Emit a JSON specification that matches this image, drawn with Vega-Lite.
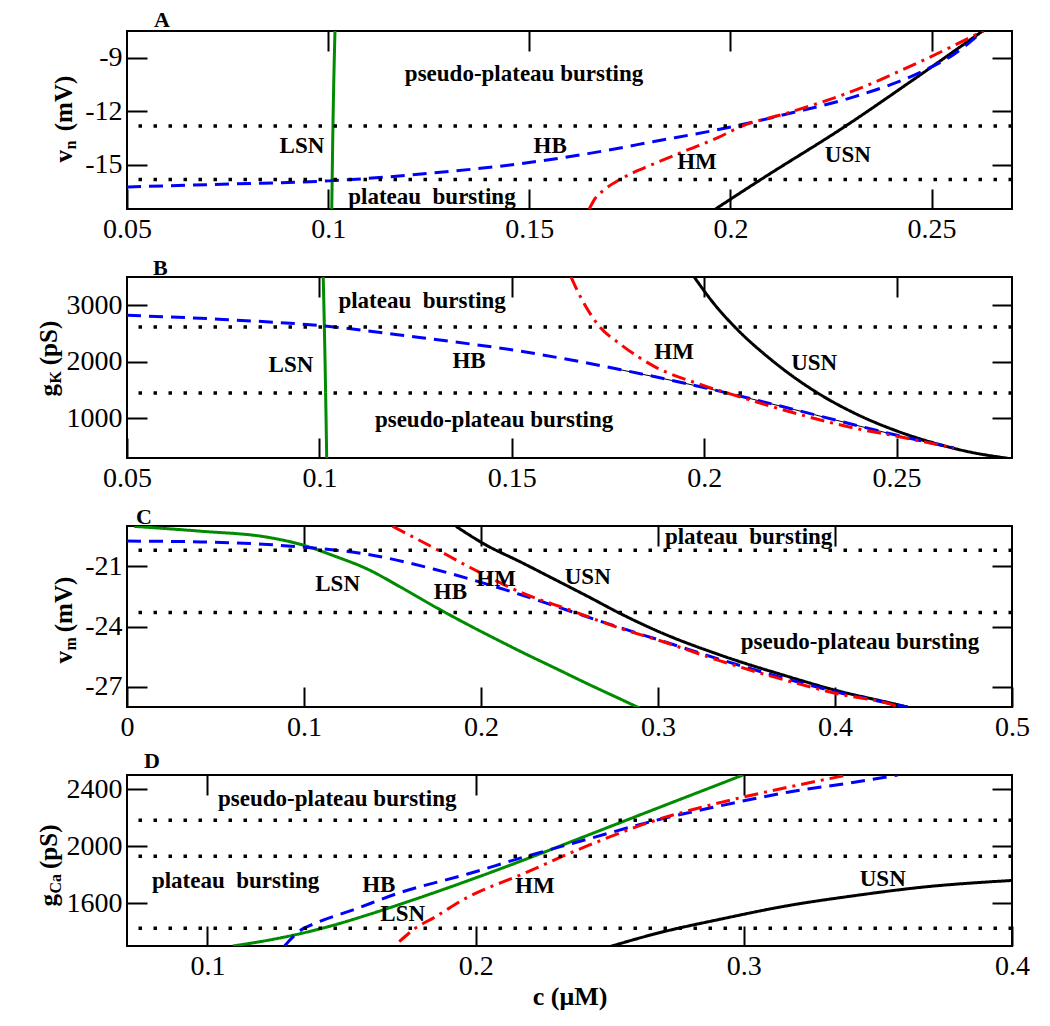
{
  "$schema": "https://vega.github.io/schema/vega-lite/v6.json",
  "background": "white",
  "padding": {"left": 35, "top": 8, "right": 5, "bottom": 5},
  "bounds": "flush",
  "spacing": 68,
  "datasets": {
    "curves": [
      {"p":"A","k":"USN","c":0.1963,"v":-17.5},{"p":"A","k":"USN","c":0.2076,"v":-15.84},{"p":"A","k":"USN","c":0.2287,"v":-12.83},{"p":"A","k":"USN","c":0.2457,"v":-10.2},{"p":"A","k":"USN","c":0.2627,"v":-7.5},
      {"p":"A","k":"LSN","c":0.1009,"v":-17.5},{"p":"A","k":"LSN","c":0.1012,"v":-12.8},{"p":"A","k":"LSN","c":0.1017,"v":-7.5},
      {"p":"A","k":"HB","c":0.05,"v":-16.26},{"p":"A","k":"HB","c":0.0766,"v":-16.09},{"p":"A","k":"HB","c":0.1002,"v":-15.92},{"p":"A","k":"HB","c":0.1263,"v":-15.47},{"p":"A","k":"HB","c":0.1476,"v":-14.96},{"p":"A","k":"HB","c":0.1646,"v":-14.39},{"p":"A","k":"HB","c":0.181,"v":-13.71},{"p":"A","k":"HB","c":0.2006,"v":-12.87},{"p":"A","k":"HB","c":0.2143,"v":-12.15},{"p":"A","k":"HB","c":0.2307,"v":-11.2},{"p":"A","k":"HB","c":0.2474,"v":-9.8},{"p":"A","k":"HB","c":0.2556,"v":-8.8},{"p":"A","k":"HB","c":0.2628,"v":-7.5},
      {"p":"A","k":"HM","c":0.1649,"v":-17.5},{"p":"A","k":"HM","c":0.1663,"v":-16.93},{"p":"A","k":"HM","c":0.1686,"v":-16.43},{"p":"A","k":"HM","c":0.1728,"v":-15.81},{"p":"A","k":"HM","c":0.181,"v":-14.96},{"p":"A","k":"HM","c":0.1895,"v":-14.17},{"p":"A","k":"HM","c":0.1969,"v":-13.49},{"p":"A","k":"HM","c":0.2026,"v":-12.87},{"p":"A","k":"HM","c":0.2143,"v":-12.1},{"p":"A","k":"HM","c":0.2307,"v":-10.85},{"p":"A","k":"HM","c":0.2474,"v":-9.2},{"p":"A","k":"HM","c":0.2628,"v":-7.5},

      {"p":"B","k":"USN","c":0.1974,"v":3500},{"p":"B","k":"USN","c":0.2026,"v":3023},{"p":"B","k":"USN","c":0.2078,"v":2628},{"p":"B","k":"USN","c":0.2174,"v":2038},{"p":"B","k":"USN","c":0.2295,"v":1449},{"p":"B","k":"USN","c":0.239,"v":1095},{"p":"B","k":"USN","c":0.2501,"v":777},{"p":"B","k":"USN","c":0.2607,"v":547},{"p":"B","k":"USN","c":0.2694,"v":401},{"p":"B","k":"USN","c":0.2789,"v":295},
      {"p":"B","k":"LSN","c":0.101,"v":3500},{"p":"B","k":"LSN","c":0.1015,"v":1900},{"p":"B","k":"LSN","c":0.1019,"v":300},
      {"p":"B","k":"HB","c":0.05,"v":2823},{"p":"B","k":"HB","c":0.075,"v":2750},{"p":"B","k":"HB","c":0.1004,"v":2639},{"p":"B","k":"HB","c":0.125,"v":2440},{"p":"B","k":"HB","c":0.1524,"v":2186},{"p":"B","k":"HB","c":0.1784,"v":1861},{"p":"B","k":"HB","c":0.2005,"v":1537},{"p":"B","k":"HB","c":0.2218,"v":1184},{"p":"B","k":"HB","c":0.2389,"v":889},{"p":"B","k":"HB","c":0.2501,"v":701},{"p":"B","k":"HB","c":0.2649,"v":477},
      {"p":"B","k":"HM","c":0.1654,"v":3500},{"p":"B","k":"HM","c":0.168,"v":3129},{"p":"B","k":"HM","c":0.1724,"v":2657},{"p":"B","k":"HM","c":0.1784,"v":2303},{"p":"B","k":"HM","c":0.187,"v":1921},{"p":"B","k":"HM","c":0.1992,"v":1596},{"p":"B","k":"HM","c":0.2088,"v":1391},{"p":"B","k":"HM","c":0.2218,"v":1126},{"p":"B","k":"HM","c":0.2389,"v":831},{"p":"B","k":"HM","c":0.2501,"v":684},{"p":"B","k":"HM","c":0.2608,"v":535},{"p":"B","k":"HM","c":0.2649,"v":477},
      {"p":"B","k":"HBb","c":0.175,"v":1905},{"p":"B","k":"HBb","c":0.2005,"v":1537},{"p":"B","k":"HBb","c":0.2218,"v":1184},{"p":"B","k":"HBb","c":0.2389,"v":889},{"p":"B","k":"HBb","c":0.2501,"v":701},{"p":"B","k":"HBb","c":0.2649,"v":477},

      {"p":"C","k":"USN","c":0.1859,"v":-19.02},{"p":"C","k":"USN","c":0.2019,"v":-19.9},{"p":"C","k":"USN","c":0.2226,"v":-20.8},{"p":"C","k":"USN","c":0.2415,"v":-21.65},{"p":"C","k":"USN","c":0.2603,"v":-22.5},{"p":"C","k":"USN","c":0.2791,"v":-23.37},{"p":"C","k":"USN","c":0.3017,"v":-24.3},{"p":"C","k":"USN","c":0.3356,"v":-25.43},{"p":"C","k":"USN","c":0.3733,"v":-26.48},{"p":"C","k":"USN","c":0.4008,"v":-27.18},{"p":"C","k":"USN","c":0.4298,"v":-27.77},{"p":"C","k":"USN","c":0.441,"v":-28.0},
      {"p":"C","k":"LSN","c":0.0041,"v":-19.02},{"p":"C","k":"LSN","c":0.0418,"v":-19.26},{"p":"C","k":"LSN","c":0.0795,"v":-19.56},{"p":"C","k":"LSN","c":0.0983,"v":-19.92},{"p":"C","k":"LSN","c":0.1171,"v":-20.49},{"p":"C","k":"LSN","c":0.136,"v":-21.15},{"p":"C","k":"LSN","c":0.1548,"v":-22.05},{"p":"C","k":"LSN","c":0.1736,"v":-23.0},{"p":"C","k":"LSN","c":0.1925,"v":-23.9},{"p":"C","k":"LSN","c":0.2113,"v":-24.75},{"p":"C","k":"LSN","c":0.2226,"v":-25.25},{"p":"C","k":"LSN","c":0.2415,"v":-26.05},{"p":"C","k":"LSN","c":0.2603,"v":-26.85},{"p":"C","k":"LSN","c":0.2791,"v":-27.62},{"p":"C","k":"LSN","c":0.2895,"v":-28.05},
      {"p":"C","k":"HB","c":0.0,"v":-19.75},{"p":"C","k":"HB","c":0.0418,"v":-19.79},{"p":"C","k":"HB","c":0.0795,"v":-19.92},{"p":"C","k":"HB","c":0.0993,"v":-20.05},{"p":"C","k":"HB","c":0.136,"v":-20.41},{"p":"C","k":"HB","c":0.1736,"v":-21.15},{"p":"C","k":"HB","c":0.2019,"v":-21.85},{"p":"C","k":"HB","c":0.2226,"v":-22.42},{"p":"C","k":"HB","c":0.2509,"v":-23.25},{"p":"C","k":"HB","c":0.2791,"v":-24.07},{"p":"C","k":"HB","c":0.3017,"v":-24.7},{"p":"C","k":"HB","c":0.3356,"v":-25.65},{"p":"C","k":"HB","c":0.3733,"v":-26.62},{"p":"C","k":"HB","c":0.4008,"v":-27.25},{"p":"C","k":"HB","c":0.4298,"v":-27.8},{"p":"C","k":"HB","c":0.441,"v":-28.0},
      {"p":"C","k":"HM","c":0.1501,"v":-19.02},{"p":"C","k":"HM","c":0.1736,"v":-20.1},{"p":"C","k":"HM","c":0.1925,"v":-21.0},{"p":"C","k":"HM","c":0.2226,"v":-22.3},{"p":"C","k":"HM","c":0.2509,"v":-23.2},{"p":"C","k":"HM","c":0.2791,"v":-24.1},{"p":"C","k":"HM","c":0.3017,"v":-24.72},{"p":"C","k":"HM","c":0.3356,"v":-25.72},{"p":"C","k":"HM","c":0.3733,"v":-26.7},{"p":"C","k":"HM","c":0.4008,"v":-27.33},{"p":"C","k":"HM","c":0.4298,"v":-27.82},{"p":"C","k":"HM","c":0.4365,"v":-28.0},

      {"p":"D","k":"USN","c":0.2505,"v":1298},{"p":"D","k":"USN","c":0.2666,"v":1384},{"p":"D","k":"USN","c":0.2915,"v":1489},{"p":"D","k":"USN","c":0.3164,"v":1583},{"p":"D","k":"USN","c":0.3412,"v":1653},{"p":"D","k":"USN","c":0.3661,"v":1712},{"p":"D","k":"USN","c":0.4,"v":1760},
      {"p":"D","k":"LSN","c":0.1095,"v":1300},{"p":"D","k":"LSN","c":0.1222,"v":1339},{"p":"D","k":"LSN","c":0.1349,"v":1388},{"p":"D","k":"LSN","c":0.1472,"v":1447},{"p":"D","k":"LSN","c":0.1595,"v":1517},{"p":"D","k":"LSN","c":0.1722,"v":1595},{"p":"D","k":"LSN","c":0.1968,"v":1756},{"p":"D","k":"LSN","c":0.2169,"v":1896},{"p":"D","k":"LSN","c":0.2415,"v":2075},{"p":"D","k":"LSN","c":0.2665,"v":2258},{"p":"D","k":"LSN","c":0.2915,"v":2440},{"p":"D","k":"LSN","c":0.2997,"v":2500},
      {"p":"D","k":"HB","c":0.1287,"v":1298},{"p":"D","k":"HB","c":0.1305,"v":1337},{"p":"D","k":"HB","c":0.1337,"v":1396},{"p":"D","k":"HB","c":0.1411,"v":1466},{"p":"D","k":"HB","c":0.1535,"v":1548},{"p":"D","k":"HB","c":0.1722,"v":1677},{"p":"D","k":"HB","c":0.197,"v":1805},{"p":"D","k":"HB","c":0.2169,"v":1918},{"p":"D","k":"HB","c":0.2418,"v":2050},{"p":"D","k":"HB","c":0.2666,"v":2179},{"p":"D","k":"HB","c":0.2915,"v":2285},{"p":"D","k":"HB","c":0.3164,"v":2379},{"p":"D","k":"HB","c":0.3412,"v":2449},{"p":"D","k":"HB","c":0.3574,"v":2500},
      {"p":"D","k":"HM","c":0.1715,"v":1330},{"p":"D","k":"HM","c":0.1771,"v":1419},{"p":"D","k":"HM","c":0.1846,"v":1501},{"p":"D","k":"HM","c":0.197,"v":1642},{"p":"D","k":"HM","c":0.2169,"v":1800},{"p":"D","k":"HM","c":0.2418,"v":2004},{"p":"D","k":"HM","c":0.2666,"v":2179},{"p":"D","k":"HM","c":0.2915,"v":2308},{"p":"D","k":"HM","c":0.3164,"v":2414},{"p":"D","k":"HM","c":0.3387,"v":2500}
    ],
    "dots": [
      {"p":"A","v":-12.84},{"p":"A","v":-15.84},
      {"p":"B","v":2616},{"p":"B","v":1449},
      {"p":"C","v":-20.2},{"p":"C","v":-23.3},
      {"p":"D","v":2182},{"p":"D","v":1930},{"p":"D","v":1424}
    ],
    "labels": [
      {"p":"A","t":"pseudo-plateau bursting","c":0.1487,"v":-9.93},
      {"p":"A","t":"LSN","c":0.0935,"v":-13.94},
      {"p":"A","t":"plateau\u00a0 bursting","c":0.1258,"v":-16.82},
      {"p":"A","t":"HB","c":0.1552,"v":-13.94},
      {"p":"A","t":"HM","c":0.1917,"v":-14.84},
      {"p":"A","t":"USN","c":0.2292,"v":-14.45},
      {"p":"B","t":"plateau\u00a0 bursting","c":0.1267,"v":3076},
      {"p":"B","t":"LSN","c":0.0926,"v":1950},
      {"p":"B","t":"HB","c":0.1389,"v":2015},
      {"p":"B","t":"pseudo-plateau bursting","c":0.1454,"v":977},
      {"p":"B","t":"HM","c":0.1922,"v":2169},
      {"p":"B","t":"USN","c":0.2286,"v":1980},
      {"p":"C","t":"LSN","c":0.119,"v":-21.89},
      {"p":"C","t":"HB","c":0.1827,"v":-22.3},
      {"p":"C","t":"HM","c":0.2085,"v":-21.64},
      {"p":"C","t":"USN","c":0.2603,"v":-21.56},
      {"p":"C","t":"plateau\u00a0 bursting","c":0.3512,"v":-19.56},
      {"p":"C","t":"pseudo-plateau bursting","c":0.4141,"v":-24.75},
      {"p":"D","t":"pseudo-plateau bursting","c":0.1484,"v":2332},
      {"p":"D","t":"plateau\u00a0 bursting","c":0.1105,"v":1758},
      {"p":"D","t":"HB","c":0.1639,"v":1730},
      {"p":"D","t":"LSN","c":0.1728,"v":1524},
      {"p":"D","t":"HM","c":0.2221,"v":1723},
      {"p":"D","t":"USN","c":0.3518,"v":1770}
    ]
  },
  "vconcat": [
    {
      "width": 885, "height": 178,
      "title": {"text": "A", "anchor": "start", "frame": "group", "dx": 27, "offset": -19, "baseline": "alphabetic"},
      "layer": [
        {
          "data": {"name": "curves"},
          "transform": [{"filter": "datum.p == 'A'"}],
          "mark": {"type": "line", "strokeWidth": 3, "clip": true, "interpolate": "monotone"},
          "encoding": {
            "x": {"field": "c", "type": "quantitative", "scale": {"domain": [0.05, 0.27], "nice": false, "zero": false},
                  "axis": {"orient": "bottom", "offset": -20, "values": [0.05, 0.1, 0.15, 0.2, 0.25], "format": "~g", "labelPadding": 6, "title": null}},
            "y": {"field": "v", "type": "quantitative", "scale": {"domain": [-17.5, -7.5], "nice": false, "zero": false},
                  "axis": {"orient": "left", "offset": -20, "values": [-15, -12, -9], "format": "d", "labelPadding": 5, "title": "v\u00a0\u00a0\u00a0(mV)", "titleX": -76, "titleY": 131, "titleAngle": -90, "titleAlign": "left", "titleBaseline": "alphabetic"}},
            "color": {"field": "k", "type": "nominal", "scale": {"domain": ["LSN", "HB", "HM", "USN"], "range": ["#008b00", "#0000ff", "#ff0000", "#000000"]}, "legend": null},
            "strokeDash": {"field": "k", "type": "nominal", "scale": {"domain": ["LSN", "HB", "HM", "USN"], "range": [[1, 0], [14, 8], [14, 6, 3, 6], [1, 0]]}, "legend": null}
          }
        },
        {
          "data": {"name": "dots"},
          "transform": [{"filter": "datum.p == 'A'"}],
          "mark": {"type": "rule", "strokeWidth": 3.5, "strokeDash": [3.5, 11.5], "color": "black"},
          "encoding": {
            "y": {"field": "v", "type": "quantitative", "scale": {"domain": [-17.5, -7.5], "nice": false, "zero": false},
                  "axis": {"orient": "right", "offset": -20, "values": [-15, -12, -9], "labels": false, "title": null}}
          }
        },
        {
          "data": {"name": "labels"},
          "transform": [{"filter": "datum.p == 'A'"}],
          "mark": {"type": "text", "font": "Liberation Serif", "fontSize": 23, "fontWeight": "bold", "baseline": "middle", "color": "black"},
          "encoding": {
            "x": {"field": "c", "type": "quantitative", "scale": {"domain": [0.05, 0.27], "nice": false, "zero": false},
                  "axis": {"orient": "top", "offset": -20, "values": [0.1, 0.15, 0.2, 0.25], "labels": false, "title": null}},
            "y": {"field": "v", "type": "quantitative", "scale": {"domain": [-17.5, -7.5], "nice": false, "zero": false},
                  "axis": {"orient": "left", "labels": false, "ticks": false, "title": "n", "titleFontSize": 16, "titleX": -52, "titleY": 118, "titleAngle": -90, "titleAlign": "left", "titleBaseline": "alphabetic"}},
            "text": {"field": "t"}
          }
        }
      ],
      "resolve": {"axis": {"x": "independent", "y": "independent"}}
    },
    {
      "width": 885, "height": 181,
      "title": {"text": "B", "anchor": "start", "frame": "group", "dx": 26, "offset": -21, "baseline": "alphabetic"},
      "layer": [
        {
          "data": {"name": "curves"},
          "transform": [{"filter": "datum.p == 'B' && datum.k == 'HBb'"}],
          "mark": {"type": "line", "strokeWidth": 1, "color": "black", "clip": true, "interpolate": "monotone"},
          "encoding": {
            "x": {"field": "c", "type": "quantitative", "scale": {"domain": [0.05, 0.28], "nice": false, "zero": false}, "axis": null},
            "y": {"field": "v", "type": "quantitative", "scale": {"domain": [300, 3500], "nice": false, "zero": false}, "axis": null}
          }
        },
        {
          "data": {"name": "curves"},
          "transform": [{"filter": "datum.p == 'B' && datum.k != 'HBb'"}],
          "mark": {"type": "line", "strokeWidth": 3, "clip": true, "interpolate": "monotone"},
          "encoding": {
            "x": {"field": "c", "type": "quantitative", "scale": {"domain": [0.05, 0.28], "nice": false, "zero": false},
                  "axis": {"orient": "bottom", "offset": -20, "values": [0.05, 0.1, 0.15, 0.2, 0.25], "format": "~g", "labelPadding": 6, "title": null}},
            "y": {"field": "v", "type": "quantitative", "scale": {"domain": [300, 3500], "nice": false, "zero": false},
                  "axis": {"orient": "left", "offset": -20, "values": [1000, 2000, 3000], "format": "d", "labelPadding": 5, "title": "g\u00a0\u00a0\u00a0(pS)", "titleX": -91, "titleY": 119, "titleAngle": -90, "titleAlign": "left", "titleBaseline": "alphabetic"}},
            "color": {"field": "k", "type": "nominal", "scale": {"domain": ["LSN", "HB", "HM", "USN"], "range": ["#008b00", "#0000ff", "#ff0000", "#000000"]}, "legend": null},
            "strokeDash": {"field": "k", "type": "nominal", "scale": {"domain": ["LSN", "HB", "HM", "USN"], "range": [[1, 0], [14, 8], [14, 6, 3, 6], [1, 0]]}, "legend": null}
          }
        },
        {
          "data": {"name": "dots"},
          "transform": [{"filter": "datum.p == 'B'"}],
          "mark": {"type": "rule", "strokeWidth": 3.5, "strokeDash": [3.5, 11.5], "color": "black"},
          "encoding": {
            "y": {"field": "v", "type": "quantitative", "scale": {"domain": [300, 3500], "nice": false, "zero": false},
                  "axis": {"orient": "right", "offset": -20, "values": [1000, 2000, 3000], "labels": false, "title": null}}
          }
        },
        {
          "data": {"name": "labels"},
          "transform": [{"filter": "datum.p == 'B'"}],
          "mark": {"type": "text", "font": "Liberation Serif", "fontSize": 23, "fontWeight": "bold", "baseline": "middle", "color": "black"},
          "encoding": {
            "x": {"field": "c", "type": "quantitative", "scale": {"domain": [0.05, 0.28], "nice": false, "zero": false},
                  "axis": {"orient": "top", "offset": -20, "values": [0.1, 0.15, 0.2, 0.25], "labels": false, "title": null}},
            "y": {"field": "v", "type": "quantitative", "scale": {"domain": [300, 3500], "nice": false, "zero": false},
                  "axis": {"orient": "left", "labels": false, "ticks": false, "title": "K", "titleFontSize": 16, "titleX": -67, "titleY": 106, "titleAngle": -90, "titleAlign": "left", "titleBaseline": "alphabetic"}},
            "text": {"field": "t"}
          }
        }
      ],
      "resolve": {"axis": {"x": "independent", "y": "independent"}}
    },
    {
      "width": 885, "height": 181,
      "title": {"text": "C", "anchor": "start", "frame": "group", "dx": 9, "offset": -21, "baseline": "alphabetic"},
      "layer": [
        {
          "data": {"name": "curves"},
          "transform": [{"filter": "datum.p == 'C'"}],
          "mark": {"type": "line", "strokeWidth": 3, "clip": true, "interpolate": "monotone"},
          "encoding": {
            "x": {"field": "c", "type": "quantitative", "scale": {"domain": [0, 0.5], "nice": false, "zero": false},
                  "axis": {"orient": "bottom", "offset": -20, "values": [0, 0.1, 0.2, 0.3, 0.4, 0.5], "format": "~g", "labelPadding": 6, "title": null}},
            "y": {"field": "v", "type": "quantitative", "scale": {"domain": [-28, -19], "nice": false, "zero": false},
                  "axis": {"orient": "left", "offset": -20, "values": [-27, -24, -21], "format": "d", "labelPadding": 5, "title": "v\u00a0\u00a0\u00a0(mV)", "titleX": -76, "titleY": 137, "titleAngle": -90, "titleAlign": "left", "titleBaseline": "alphabetic"}},
            "color": {"field": "k", "type": "nominal", "scale": {"domain": ["LSN", "HB", "HM", "USN"], "range": ["#008b00", "#0000ff", "#ff0000", "#000000"]}, "legend": null},
            "strokeDash": {"field": "k", "type": "nominal", "scale": {"domain": ["LSN", "HB", "HM", "USN"], "range": [[1, 0], [14, 8], [14, 6, 3, 6], [1, 0]]}, "legend": null}
          }
        },
        {
          "data": {"name": "dots"},
          "transform": [{"filter": "datum.p == 'C'"}],
          "mark": {"type": "rule", "strokeWidth": 3.5, "strokeDash": [3.5, 11.5], "color": "black"},
          "encoding": {
            "y": {"field": "v", "type": "quantitative", "scale": {"domain": [-28, -19], "nice": false, "zero": false},
                  "axis": {"orient": "right", "offset": -20, "values": [-27, -24, -21], "labels": false, "title": null}}
          }
        },
        {
          "data": {"name": "labels"},
          "transform": [{"filter": "datum.p == 'C'"}],
          "mark": {"type": "text", "font": "Liberation Serif", "fontSize": 23, "fontWeight": "bold", "baseline": "middle", "color": "black"},
          "encoding": {
            "x": {"field": "c", "type": "quantitative", "scale": {"domain": [0, 0.5], "nice": false, "zero": false},
                  "axis": {"orient": "top", "offset": -20, "values": [0.1, 0.2, 0.3, 0.4], "labels": false, "title": null}},
            "y": {"field": "v", "type": "quantitative", "scale": {"domain": [-28, -19], "nice": false, "zero": false},
                  "axis": {"orient": "left", "labels": false, "ticks": false, "title": "m", "titleFontSize": 16, "titleX": -52, "titleY": 124, "titleAngle": -90, "titleAlign": "left", "titleBaseline": "alphabetic"}},
            "text": {"field": "t"}
          }
        }
      ],
      "resolve": {"axis": {"x": "independent", "y": "independent"}}
    },
    {
      "width": 885, "height": 171,
      "title": {"text": "D", "anchor": "start", "frame": "group", "dx": 17, "offset": -16, "baseline": "alphabetic"},
      "layer": [
        {
          "data": {"name": "curves"},
          "transform": [{"filter": "datum.p == 'D'"}],
          "mark": {"type": "line", "strokeWidth": 3, "clip": true, "interpolate": "monotone"},
          "encoding": {
            "x": {"field": "c", "type": "quantitative", "scale": {"domain": [0.07, 0.4], "nice": false, "zero": false},
                  "axis": {"orient": "bottom", "offset": -20, "values": [0.1, 0.2, 0.3, 0.4], "format": "~g", "labelPadding": 6, "title": "c (\u03bcM)", "titleFontSize": 26, "titleY": 78, "titleBaseline": "alphabetic"}},
            "y": {"field": "v", "type": "quantitative", "scale": {"domain": [1300, 2500], "nice": false, "zero": false},
                  "axis": {"orient": "left", "offset": -20, "values": [1600, 2000, 2400], "format": "d", "labelPadding": 5, "title": "g\u00a0\u00a0\u00a0\u00a0(pS)", "titleX": -91, "titleY": 131, "titleAngle": -90, "titleAlign": "left", "titleBaseline": "alphabetic"}},
            "color": {"field": "k", "type": "nominal", "scale": {"domain": ["LSN", "HB", "HM", "USN"], "range": ["#008b00", "#0000ff", "#ff0000", "#000000"]}, "legend": null},
            "strokeDash": {"field": "k", "type": "nominal", "scale": {"domain": ["LSN", "HB", "HM", "USN"], "range": [[1, 0], [14, 8], [14, 6, 3, 6], [1, 0]]}, "legend": null}
          }
        },
        {
          "data": {"name": "dots"},
          "transform": [{"filter": "datum.p == 'D'"}],
          "mark": {"type": "rule", "strokeWidth": 3.5, "strokeDash": [3.5, 11.5], "color": "black"},
          "encoding": {
            "y": {"field": "v", "type": "quantitative", "scale": {"domain": [1300, 2500], "nice": false, "zero": false},
                  "axis": {"orient": "right", "offset": -20, "values": [1600, 2000, 2400], "labels": false, "title": null}}
          }
        },
        {
          "data": {"name": "labels"},
          "transform": [{"filter": "datum.p == 'D'"}],
          "mark": {"type": "text", "font": "Liberation Serif", "fontSize": 23, "fontWeight": "bold", "baseline": "middle", "color": "black"},
          "encoding": {
            "x": {"field": "c", "type": "quantitative", "scale": {"domain": [0.07, 0.4], "nice": false, "zero": false},
                  "axis": {"orient": "top", "offset": -20, "values": [0.1, 0.2, 0.3], "labels": false, "title": null}},
            "y": {"field": "v", "type": "quantitative", "scale": {"domain": [1300, 2500], "nice": false, "zero": false},
                  "axis": {"orient": "left", "labels": false, "ticks": false, "title": "Ca", "titleFontSize": 16, "titleX": -67, "titleY": 118, "titleAngle": -90, "titleAlign": "left", "titleBaseline": "alphabetic"}},
            "text": {"field": "t"}
          }
        }
      ],
      "resolve": {"axis": {"x": "independent", "y": "independent"}}
    }
  ],
  "config": {
    "locale": {"number": {"decimal": ".", "thousands": ",", "grouping": [3], "currency": ["$", ""], "minus": "-"}},
    "view": {"stroke": "black", "strokeWidth": 2},
    "axis": {
      "domain": false, "grid": false,
      "tickColor": "black", "tickWidth": 2, "tickSize": 20,
      "labelFont": "Liberation Serif", "labelFontSize": 28, "labelColor": "black",
      "labelFlush": false, "labelOverlap": false, "labelBound": false,
      "titleFont": "Liberation Serif", "titleFontSize": 25, "titleFontWeight": "bold", "titleColor": "black"
    },
    "title": {"font": "Liberation Serif", "fontSize": 22, "fontWeight": "bold", "color": "black"}
  }
}
